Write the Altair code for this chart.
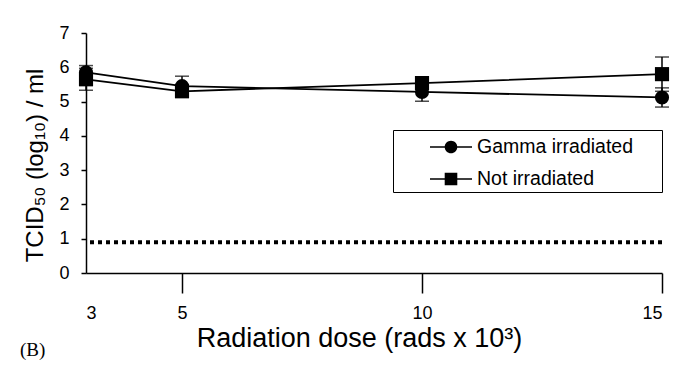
import altair as alt
import pandas as pd

doses = [3, 5, 10, 15]
series_names = ["Gamma irradiated", "Not irradiated"]
gamma = [5.85, 5.45, 5.28, 5.12]
gamma_err = [0.20, 0.29, 0.27, 0.28]
not_irr = [5.65, 5.30, 5.54, 5.80]
not_irr_err = [0.32, 0.15, 0.12, 0.50]
detection_limit = [0.9]
y_ticks = [0, 1, 2, 3, 4, 5, 6, 7]
x_ticks = [3, 5, 10, 15]

rows = []
for name, vals, errs in [(series_names[0], gamma, gamma_err), (series_names[1], not_irr, not_irr_err)]:
    for d, v, e in zip(doses, vals, errs):
        rows.append({"dose": d, "series": name, "titer": v, "lo": v - e, "hi": v + e})
df = pd.DataFrame(rows)
caps = pd.concat([
    df[["dose", "series", "lo"]].rename(columns={"lo": "cap"}),
    df[["dose", "series", "hi"]].rename(columns={"hi": "cap"}),
])
lim = pd.DataFrame({"lim": detection_limit})

FONT = "Liberation Sans"

x_scale = alt.Scale(domain=[3, 15], nice=False, zero=False)
x_axis = alt.Axis(values=x_ticks, title="Radiation dose (rads x 10³)", grid=False,
                  tickSize=20, labelPadding=11, titlePadding=3, titleFontSize=27,
                  tickOpacity={"expr": "datum.value == 3 ? 0 : 1"},
                  titleX=273, titleAlign="center")
y_scale = alt.Scale(domain=[0, 7], nice=False)
y_axis = alt.Axis(values=y_ticks, title="TCID₅₀ (log₁₀) / ml", grid=False, tickSize=5,
                  labelPadding=12, titlePadding=11, titleY=132, titleFontSize=24)


def X(field):
    return alt.X(field, scale=x_scale, axis=x_axis)


def Y(field):
    return alt.Y(field, scale=y_scale, axis=y_axis)


threshold = alt.Chart(lim).mark_rule(color="black", strokeWidth=4, strokeDash=[4, 4]).encode(
    y=Y("lim:Q")
)

lines = alt.Chart(df).mark_line(color="black", strokeWidth=1.8).encode(
    x=X("dose:Q"), y=Y("titer:Q"), detail="series:N",
)

err = alt.Chart(df).mark_rule(color="black", strokeWidth=1.5).encode(
    x=X("dose:Q"), y=Y("lo:Q"), y2="hi:Q"
)

cap = alt.Chart(caps).mark_tick(color="black", orient="horizontal", size=14, thickness=1.5).encode(
    x=X("dose:Q"), y=Y("cap:Q")
)

points = alt.Chart(df).mark_point(filled=True, color="black", opacity=1, size=200).encode(
    x=X("dose:Q"), y=Y("titer:Q"),
    shape=alt.Shape("series:N", scale=alt.Scale(domain=series_names, range=["circle", "square"]),
                    legend=None),
)

circle_path = ("M-1.5,-0.05H1.5V0.05H-1.5Z"
               "M0.45,0A0.45,0.45,0,1,1,-0.45,0A0.45,0.45,0,1,1,0.45,0Z")
square_path = "M-1.5,-0.05H1.5V0.05H-1.5ZM-0.45,-0.45H0.45V0.45H-0.45Z"

legend_layer = alt.Chart(df).mark_point(filled=True, color="black", opacity=0, size=10).encode(
    x=X("dose:Q"), y=Y("titer:Q"),
    shape=alt.Shape("series:N",
                    scale=alt.Scale(domain=series_names, range=[circle_path, square_path]),
                    legend=alt.Legend(title=" ", titleOrient="right", titleFontSize=1,
                                      titlePadding=26, titleColor="white",
                                      orient="none", legendX=307, legendY=97,
                                      strokeColor="black", fillColor="white", padding=3,
                                      symbolSize=784, symbolFillColor="black",
                                      symbolStrokeColor="black", symbolStrokeWidth=0,
                                      symbolOpacity=1, symbolOffset=41, labelOffset=12,
                                      labelFontSize=19.5, labelFont=FONT, labelColor="black",
                                      rowPadding=8)),
)

chart = alt.layer(threshold, lines, err, cap, points, legend_layer).resolve_scale(
    shape="independent"
).properties(
    width=576, height=240,
    background="white",
    autosize=alt.AutoSizeParams(type="none"),
    padding={"left": 78, "top": 25, "right": 26, "bottom": 94},
    title=alt.TitleParams("(B)", orient="bottom", anchor="start", frame="bounds", dx=-4, dy=-14,
                          font="Liberation Serif", fontSize=19, fontWeight="normal", color="black"),
).configure_view(stroke=None).configure_axis(
    domainColor="black", domainWidth=1.5, tickColor="black", tickWidth=1.5,
    labelColor="black", titleColor="black", labelFont=FONT, titleFont=FONT,
    labelFontSize=18, titleFontSize=22, titleFontWeight="normal",
)

chart.save("out.html", embed_options={"renderer": "svg", "actions": False})
